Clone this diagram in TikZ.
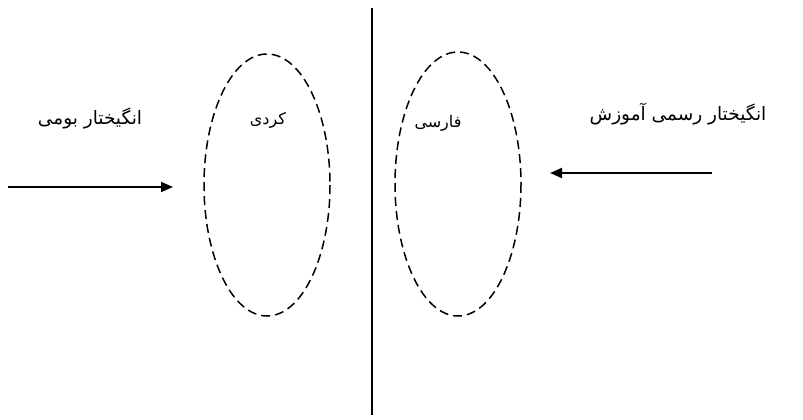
\documentclass[tikz,border=0pt]{standalone}
\usepackage{fontspec}
\TeXXeTstate=1
\newfontfamily\arabicfont[Script=Arabic]{DejaVu Sans}
\usetikzlibrary{arrows.meta}
\begin{document}
\begin{tikzpicture}[x=1pt,y=-1pt,
  ell/.style={draw,line width=1.5pt,dash pattern=on 9pt off 5pt},
  lbl/.style={font=\arabicfont\fontsize{18.5}{22}\selectfont,inner sep=0pt},
  smalllbl/.style={font=\arabicfont\fontsize{16}{19}\selectfont,inner sep=0pt},
  arr/.style={line width=1.8pt,-{Triangle[length=12pt,width=10pt]}}]
\useasboundingbox (0,0) rectangle (803,420);
\draw[ell] (267,185) ellipse [x radius=63, y radius=131];
\draw[ell] (458,184) ellipse [x radius=63, y radius=132];
\coordinate (vt) at (372,8);
\coordinate (vb) at (372,415);
\draw[line width=1.8pt] (vt) -- (vb);
\node[lbl] (tl) at (90,118) {\beginR انگیختار بومی\endR};
\node[lbl] (tr) at (678,114) {\beginR انگیختار رسمی آموزش\endR};
\node[smalllbl] (kurd) at (268,120) {\beginR کردی\endR};
\node[smalllbl] (fars) at (438,123) {\beginR فارسی\endR};
\coordinate (la) at (8,187);
\coordinate (lb) at (173,187);
\coordinate (ra) at (712,173);
\coordinate (rb) at (550,173);
\draw[arr] (la) -- (lb);
\draw[arr] (ra) -- (rb);
\end{tikzpicture}
\end{document}
